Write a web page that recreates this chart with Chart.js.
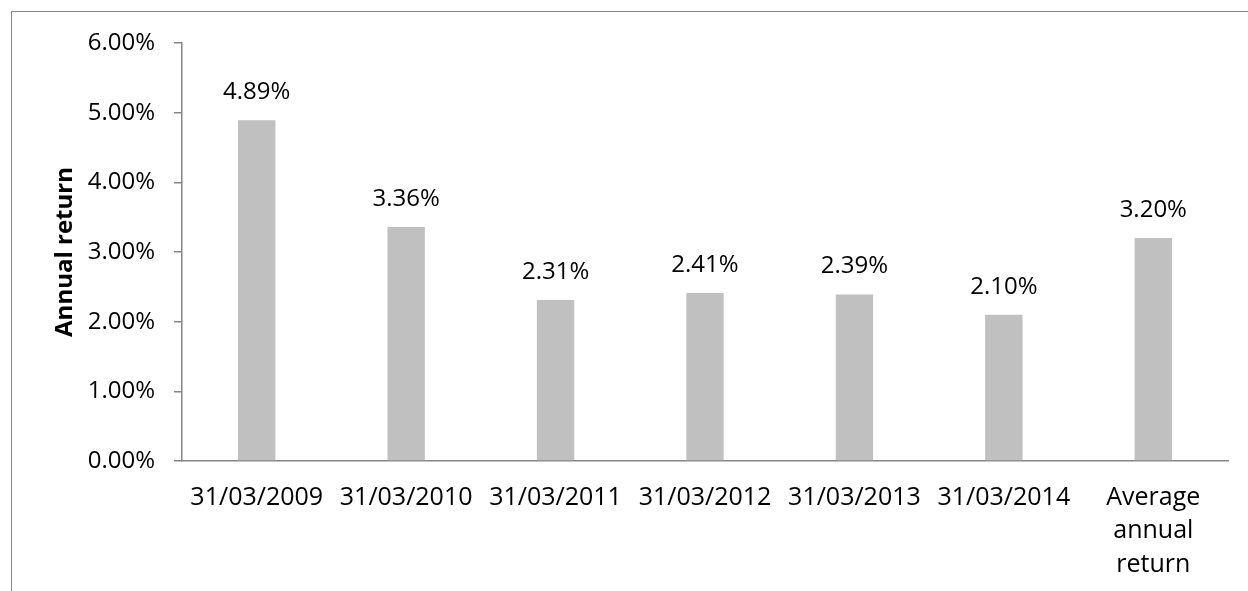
<!DOCTYPE html>
<html>
<head>
<meta charset="utf-8">
<script src="https://cdn.jsdelivr.net/npm/chart.js@4"></script>
<style>
  html, body { margin: 0; padding: 0; background: #fff; }
  #wrap { position: relative; width: 1248px; height: 591px; overflow: hidden; }
  #frame { position: absolute; left: 11px; top: 11px; width: 1300px; height: 700px;
           border-left: 1.5px solid #888; border-top: 1.5px solid #888; }
  canvas { position: absolute; left: 0; top: 0; }
</style>
</head>
<body>
<div id="wrap">
  <div id="frame"></div>
  <canvas id="chart" width="1248" height="591"></canvas>
</div>
<script>
// values (percent)
const categories = ['31/03/2009', '31/03/2010', '31/03/2011', '31/03/2012', '31/03/2013', '31/03/2014', ['Average', 'annual', 'return']];
const returns = [4.89, 3.36, 2.31, 2.41, 2.39, 2.10, 3.20];
const yTicksMax = 6;
const yTicksStep = 1;

const FONT = "'Open Sans', sans-serif";
const AXIS = '#868686';

const valueLabels = {
  id: 'valueLabels',
  afterDatasetsDraw(chart) {
    const ctx = chart.ctx;
    const meta = chart.getDatasetMeta(0);
    ctx.save();
    ctx.font = '24px ' + FONT;
    ctx.fillStyle = '#000';
    ctx.textAlign = 'center';
    ctx.textBaseline = 'middle';
    meta.data.forEach((bar, i) => {
      ctx.fillText(returns[i].toFixed(2) + '%', bar.x, bar.y - 28);
    });
    ctx.restore();
  }
};

new Chart(document.getElementById('chart').getContext('2d'), {
  type: 'bar',
  data: {
    labels: categories,
    datasets: [{
      data: returns,
      backgroundColor: '#c0c0c0',
      borderWidth: 0,
      barPercentage: 0.25,
      categoryPercentage: 1
    }]
  },
  options: {
    responsive: false,
    devicePixelRatio: 1,
    animation: false,
    layout: { padding: { left: 51, top: 43, right: 20, bottom: 0 } },
    plugins: {
      legend: { display: false },
      tooltip: { enabled: false }
    },
    scales: {
      x: {
        grid: { display: false },
        border: { display: true, color: AXIS, width: 1.5 },
        ticks: {
          color: '#000',
          font: { family: FONT, size: 25, lineHeight: 1.34 },
          padding: 12,
          maxRotation: 0,
          autoSkip: false
        },
        afterFit(scale) { scale.height = 130; }
      },
      y: {
        min: 0,
        max: yTicksMax,
        grid: { display: true, drawOnChartArea: false, drawTicks: true, tickLength: 8, color: AXIS, lineWidth: 1.5 },
        border: { display: true, color: AXIS, width: 1.5 },
        ticks: {
          stepSize: yTicksStep,
          color: '#000',
          font: { family: FONT, size: 24 },
          padding: 19,
          callback: v => v.toFixed(2) + '%'
        },
        title: {
          display: true,
          text: 'Annual return',
          color: '#000',
          font: { family: FONT, size: 24, weight: 'bold', lineHeight: 1.2 },
          padding: 0
        },
        afterFit(scale) { scale.width = 182 - 51; }
      }
    }
  },
  plugins: [valueLabels]
});
</script>
</body>
</html>
